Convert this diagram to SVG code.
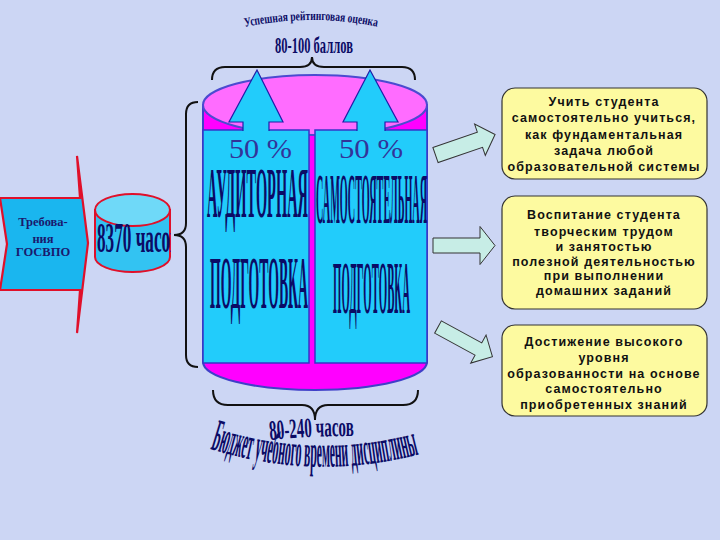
<svg xmlns="http://www.w3.org/2000/svg" width="720" height="540" viewBox="0 0 720 540">
<style>
.wa{font-family:"Liberation Serif","DejaVu Serif",serif;font-weight:bold;fill:#0b0b66}
.pc{font-family:"Liberation Serif",serif;font-size:27px;fill:#333399}
.bx{fill:#fdfaa0;stroke:#333;stroke-width:1.2}
.bt{font-family:"Liberation Sans","Noto Sans",sans-serif;font-weight:bold;font-size:12.5px;fill:#111;text-anchor:middle;letter-spacing:1.1px}
.ha{fill:#c7ede6;stroke:#333;stroke-width:1}
.br{fill:none;stroke:#111;stroke-width:2}
.pan{fill:#22ccfb;stroke:#3636c8;stroke-width:1.5}
.upf{fill:#22ccfb;stroke:none}
.upl{fill:none;stroke:#1f1fa8;stroke-width:1.2;stroke-linejoin:miter}
</style>
<defs>
<path id="pTitle" d="M245,27 Q312,13 379,27"/>
<path id="p240" d="M270,440 Q312,436 355,436"/>
<path id="pBud" d="M210,449 Q315,482 421,454"/>
<clipPath id="cCyl"><rect x="94" y="190" width="77" height="90"/></clipPath>
</defs>
<rect x="0" y="0" width="720" height="540" fill="#ccd6f4"/>

<g id="title">
<text class="wa" font-size="13"><textPath href="#pTitle" textLength="133" lengthAdjust="spacingAndGlyphs">Успешная рейтинговая оценка</textPath></text>
<text class="wa" x="275" y="53" font-size="23" textLength="78" lengthAdjust="spacingAndGlyphs">80-100 баллов</text>
</g>

<g id="requirements">
<path d="M0,198 L80,198 L77,156 L88,243 L77,333 L80,290 L0,290 L7,244 Z" fill="#1ab6ef" stroke="#e0102a" stroke-width="2.2" stroke-linejoin="miter"/>
<g font-family="Liberation Serif,serif" font-weight="bold" font-size="12.5" fill="#1a1a6e" text-anchor="middle">
<text x="43" y="226">Требова-</text>
<text x="43" y="243">ния</text>
<text x="43" y="256">ГОСВПО</text>
</g>
</g>

<g id="small-cylinder">
<path d="M95,210 L95,257 A37.5,15 0 0 0 170,257 L170,210 Z" fill="#33c3f2" stroke="#e0102a" stroke-width="2"/>
<ellipse cx="132.5" cy="210" rx="37.5" ry="16" fill="#6fd9f8" stroke="#e0102a" stroke-width="2"/>
<g clip-path="url(#cCyl)">
<text class="wa" x="97" y="252" font-size="42" fill="#10107a" textLength="82" lengthAdjust="spacingAndGlyphs">8370 часов</text>
</g>
</g>

<g id="connectors">
<path class="br" d="M198,102 Q186,102 186,114 L186,223 Q186,235 174,235 Q186,235 186,247 L186,355 Q186,367 198,367"/>
<path class="br" d="M212,80 Q212,67 225,67 L300,67 Q312,67 312,57 Q312,67 324,67 L402,67 Q415,67 415,80"/>
<path class="br" d="M213,390 Q213,405 228,405 L302,405 Q315,405 315,420 Q315,405 328,405 L403,405 Q418,405 418,390"/>
<polygon class="ha" points="0,-8 47,-8 47,-16.5 63,0 47,16.5 47,8 0,8" transform="translate(435.5,155) rotate(-19)"/>
<polygon class="ha" points="0,-7.5 47,-7.5 47,-19 62,0 47,19 47,7.5 0,7.5" transform="translate(433,245.5)"/>
<polygon class="ha" points="0,-7 46,-7 46,-16 62,0 46,16 46,7 0,7" transform="translate(438,327) rotate(28.6)"/>
</g>

<g id="big-cylinder">
<path d="M203,105 L203,362 A112,28 0 0 0 427,362 L427,105 Z" fill="#ff00ff" stroke="#4040c8" stroke-width="2"/>
<ellipse cx="315" cy="105" rx="112" ry="30" fill="#ff6cff" stroke="#4b4bd0" stroke-width="2"/>
<rect class="pan" x="203" y="130" width="106" height="233"/>
<rect class="pan" x="315" y="130" width="112" height="233"/>
<polygon class="upf" points="257,70 283,122 269,122 269,131.5 243,131.5 243,122 229,122"/>
<polyline class="upl" points="243,131 243,122 229,122 257,70 283,122 269,122 269,131"/>
<polygon class="upf" points="370,70 398,122 385,122 385,131.5 357,131.5 357,122 343,122"/>
<polyline class="upl" points="357,131 357,122 343,122 370,70 398,122 385,122 385,131"/>
<text class="pc" x="229" y="158" textLength="63" lengthAdjust="spacingAndGlyphs">50 %</text>
<text class="pc" x="339" y="158" textLength="64" lengthAdjust="spacingAndGlyphs">50 %</text>
<text class="wa" x="207" y="217" font-size="71" textLength="101" lengthAdjust="spacingAndGlyphs">АУДИТОРНАЯ</text>
<text class="wa" x="210" y="308" font-size="75" textLength="98" lengthAdjust="spacingAndGlyphs">ПОДГОТОВКА</text>
<text class="wa" x="316" y="223" font-size="72" textLength="111" lengthAdjust="spacingAndGlyphs">САМОСТОЯТЕЛЬНАЯ</text>
<text class="wa" x="333" y="313" font-size="75" textLength="77" lengthAdjust="spacingAndGlyphs">ПОДГОТОВКА</text>
</g>

<g id="budget">
<text class="wa" font-size="28"><textPath href="#p240" textLength="84" lengthAdjust="spacingAndGlyphs">80-240 часов</textPath></text>
<text class="wa" font-size="46"><textPath href="#pBud" textLength="212" lengthAdjust="spacingAndGlyphs">Бюджет учебного времени дисциплины</textPath></text>
</g>

<g id="box1">
<rect class="bx" x="502" y="88" width="205" height="91" rx="13"/>
<text class="bt" x="604" y="106">Учить студента</text>
<text class="bt" x="604" y="122">самостоятельно учиться,</text>
<text class="bt" x="604" y="139">как фундаментальная</text>
<text class="bt" x="604" y="155">задача любой</text>
<text class="bt" x="604" y="171">образовательной системы</text>
</g>

<g id="box2">
<rect class="bx" x="502" y="196" width="205" height="113" rx="13"/>
<text class="bt" x="604" y="219">Воспитание студента</text>
<text class="bt" x="604" y="236">творческим трудом</text>
<text class="bt" x="604" y="251">и занятостью</text>
<text class="bt" x="604" y="266">полезной деятельностью</text>
<text class="bt" x="604" y="280">при выполнении</text>
<text class="bt" x="604" y="295">домашних заданий</text>
</g>

<g id="box3">
<rect class="bx" x="502" y="325" width="205" height="91" rx="13"/>
<text class="bt" x="604" y="346">Достижение высокого</text>
<text class="bt" x="604" y="362">уровня</text>
<text class="bt" x="604" y="378">образованности на основе</text>
<text class="bt" x="604" y="393">самостоятельно</text>
<text class="bt" x="604" y="409">приобретенных знаний</text>
</g>
</svg>
